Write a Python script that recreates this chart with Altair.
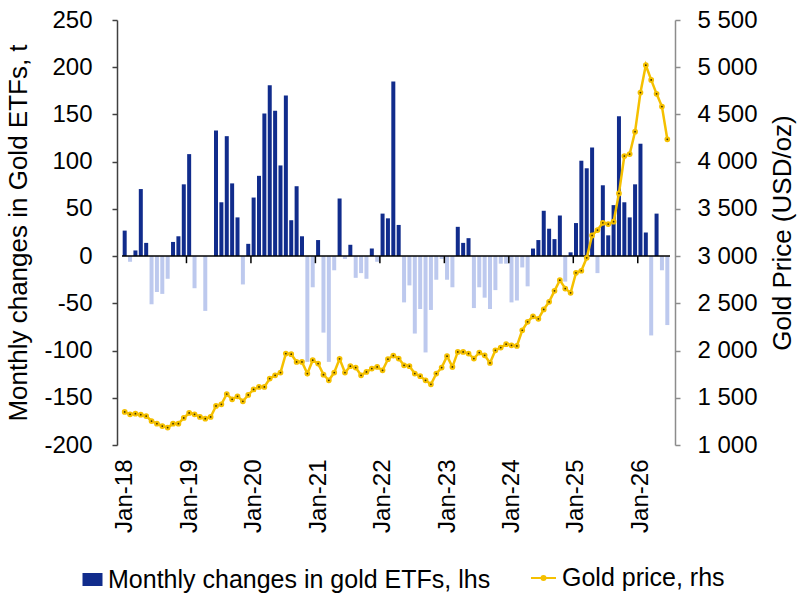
import altair as alt
import pandas as pd

# Monthly net flows into gold ETFs (tonnes), Jan-18 .. Jun-26
etf_tonnes = [
    27, -6, 6, 71, 14, -51, -38, -40, -24, 15, 21, 76,          # 2018
    108, -34, 0, -58, 0, 133, 57, 127, 77, 41, -30, 13,         # 2019
    62, 85, 151, 181, 154, 96, 170, 38, 74, 21, -112, -33,      # 2020
    17, -81, -112, -15, 61, -3, 12, -23, -18, -24, 8, -6,       # 2021
    45, 40, 185, 33, -49, -31, -82, -56, -102, -57, -25, -3,    # 2022
    -25, -33, 31, 14, 19, -55, -33, -44, -56, -36, -8, -8,      # 2023
    -49, -47, -12, -32, 8, 17, 48, 29, 18, 43, -27, 4,          # 2024
    35, 101, 93, 115, -18, 75, 22, 54, 148, 57, 41, 76,         # 2025
    119, 25, -84, 45, -15, -73,                                 # 2026
]

# Month-end gold price (USD/oz)
gold_usd = [
    1350, 1325, 1332, 1321, 1307, 1254, 1226, 1201, 1184, 1226, 1226, 1286,
    1339, 1325, 1297, 1279, 1297, 1413, 1431, 1540, 1484, 1516, 1463, 1530,
    1588, 1615, 1615, 1703, 1738, 1767, 1968, 1961, 1880, 1880, 1756, 1898,
    1862, 1745, 1685, 1767, 1912, 1767, 1834, 1820, 1738, 1774, 1809, 1827,
    1791, 1908, 1947, 1915, 1844, 1834, 1756, 1728, 1685, 1643, 1756, 1820,
    1940, 1827, 1986, 1986, 1968, 1915, 1979, 1950, 1869, 2003, 2032, 2067,
    2056, 2049, 2215, 2304, 2362, 2336, 2435, 2516, 2632, 2745, 2657, 2611,
    2823, 2845, 2982, 3219, 3276, 3353, 3339, 3364, 3664, 4060, 4081, 4318,
    4732, 5021, 4866, 4718, 4583, 4237,
]

year_labels = ["Jan-18", "Jan-19", "Jan-20", "Jan-21", "Jan-22",
               "Jan-23", "Jan-24", "Jan-25", "Jan-26"]

ETF_LABEL = "Monthly changes in gold ETFs, lhs"
GOLD_LABEL = "Gold price, rhs"
OUTFLOW = "outflow"

DARK = "#112C8C"
LIGHT = "#BDC9EE"
GOLD = "#F5C000"
FONT = "Liberation Sans"

n = len(etf_tonnes)
df = pd.DataFrame({"i": list(range(n)), "etf": etf_tonnes, "price": gold_usd})
df["flow"] = [ETF_LABEL if v >= 0 else OUTFLOW for v in etf_tonnes]
df["series"] = GOLD_LABEL

year_starts = [12 * k for k in range(len(year_labels))]
boundaries = pd.DataFrame({"b": [12 * k - 0.5 for k in range(1, len(year_labels))]})
zero_df = pd.DataFrame({"x0": [-0.5], "x1": [n - 0.5]})

x_scale = alt.Scale(domain=[-0.5, n - 0.5], nice=False, zero=False)
label_list = "[" + ",".join(f"'{s}'" for s in year_labels) + "]"
x_axis = alt.Axis(
    values=year_starts,
    labelExpr=f"{label_list}[round(datum.value / 12)]",
    labelAngle=270, labelFontSize=24, labelPadding=14,
    ticks=False, domain=False, grid=False, title=None,
    labelFlush=False, labelOverlap=False,
)

left_scale = alt.Scale(domain=[-200, 250], nice=False, zero=False)
left_axis = alt.Axis(
    values=list(range(-200, 251, 50)),
    labelExpr="'' + datum.value",
    grid=False, tickSize=5, tickWidth=1.5, tickColor="#404040",
    domainColor="#404040", domainWidth=1.5,
    labelPadding=20, labelFontSize=24, labelFlush=False,
    title="Monthly changes in Gold ETFs, t", titleFontSize=26,
    titleX=-99, titleY=212.5, titleAngle=270,
    titleAlign="center", titleBaseline="middle",
)

right_scale = alt.Scale(domain=[1000, 5500], nice=False, zero=False)
right_axis = alt.Axis(
    orient="right",
    values=list(range(1000, 5501, 500)),
    labelExpr="replace(format(datum.value, ','), ',', ' ')",
    grid=False, tickSize=5, tickWidth=1.5, tickColor="#8c8c8c",
    domainColor="#8c8c8c", domainWidth=1.5,
    labelPadding=17, labelFontSize=24, labelFlush=False,
    title="Gold Price (USD/oz)", titleFontSize=26,
    titleX=107, titleY=212.5, titleAngle=270,
    titleAlign="center", titleBaseline="middle",
)

bars = alt.Chart(df).mark_bar(size=4).encode(
    x=alt.X("i:Q", scale=x_scale, axis=x_axis),
    y=alt.Y("etf:Q", scale=left_scale, axis=left_axis),
    color=alt.Color(
        "flow:N",
        scale=alt.Scale(domain=[ETF_LABEL, OUTFLOW], range=[DARK, LIGHT]),
        legend=alt.Legend(
            title=None, values=[ETF_LABEL], orient="none",
            legendX=-37, legendY=547, padding=0,
            symbolType="M-1,-0.65H1V0.65H-1Z", symbolSize=400,
            symbolStrokeWidth=0, labelOffset=3, labelFontSize=25,
            labelLimit=0,
        ),
    ),
)

zero_line = alt.Chart(zero_df).mark_rule(color="black", strokeWidth=1.5).encode(
    x=alt.X("x0:Q", scale=x_scale, axis=x_axis),
    x2="x1:Q",
    y=alt.datum(0, scale=left_scale),
)

year_ticks = alt.Chart(boundaries).mark_rule(color="black", strokeWidth=1.5).encode(
    x=alt.X("b:Q", scale=x_scale, axis=x_axis),
    y=alt.datum(0),
    y2=alt.datum(-7.5),
)

left = alt.layer(bars, zero_line, year_ticks)

price_line = alt.Chart(df).mark_line(strokeWidth=2.5).encode(
    x=alt.X("i:Q", scale=x_scale, axis=x_axis),
    y=alt.Y("price:Q", scale=right_scale, axis=right_axis),
    stroke=alt.Stroke(
        "series:N",
        scale=alt.Scale(domain=[GOLD_LABEL], range=[GOLD]),
        legend=alt.Legend(
            title=None, orient="none",
            legendX=413, legendY=544.5, padding=0,
            symbolType="M-1,0H1M0.16,0A0.16,0.16,0,1,1,-0.16,0A0.16,0.16,0,1,1,0.16,0",
            symbolSize=625, symbolStrokeWidth=2, symbolFillColor="#3d3000",
            labelOffset=5, labelFontSize=25, labelLimit=0,
        ),
    ),
)

price_dots = alt.Chart(df).mark_point(
    shape="circle", filled=True, size=14,
    fill="#3d3000", stroke=GOLD, strokeWidth=2, opacity=1,
).encode(
    x=alt.X("i:Q", scale=x_scale, axis=x_axis),
    y=alt.Y("price:Q", scale=right_scale, axis=right_axis),
)

right = alt.layer(price_line, price_dots)

chart = (
    alt.layer(left, right)
    .resolve_scale(y="independent")
    .properties(
        width=558, height=425,
        padding={"left": 117, "top": 20, "right": 125, "bottom": 156},
        autosize=alt.AutoSizeParams(type="none"),
    )
    .configure(font=FONT)
    .configure_view(stroke=None)
    .configure_axis(labelColor="black", titleColor="black",
                    labelFont=FONT, titleFont=FONT, titleFontWeight="normal")
    .configure_legend(labelColor="black", labelFont=FONT)
)

chart.save("out.html", embed_options={"renderer": "svg", "actions": False})
